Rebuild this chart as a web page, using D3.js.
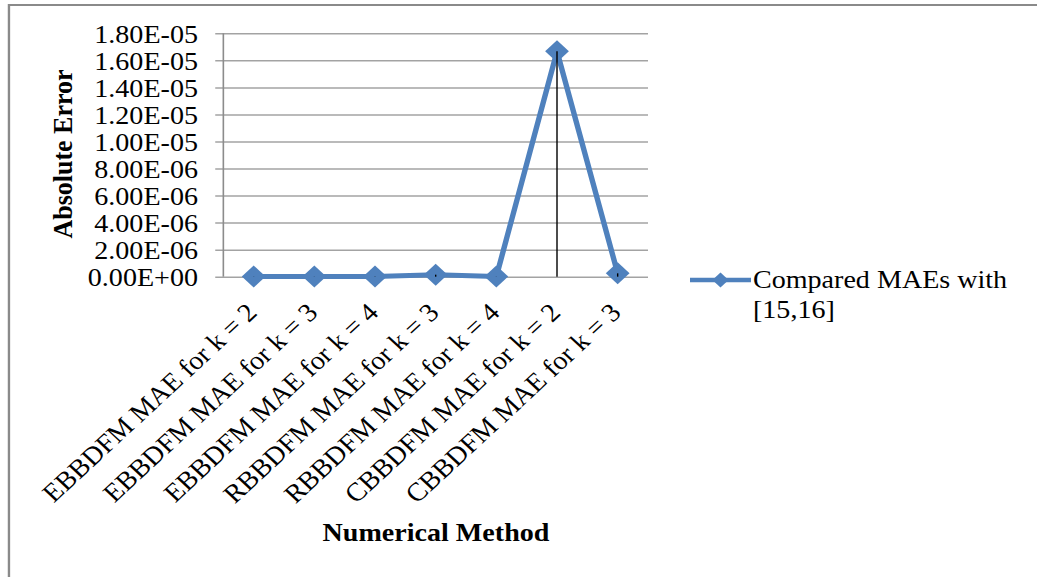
<!DOCTYPE html>
<html>
<head>
<meta charset="utf-8">
<script src="https://cdn.jsdelivr.net/npm/d3@7/dist/d3.min.js"></script>
<style>
  html, body { margin: 0; padding: 0; background: #fff; }
  svg { display: block; }
  text { font-family: "Liberation Serif", "Times New Roman", serif; fill: #000; }
</style>
</head>
<body>
<div id="chart"></div>
<script>
// Mean absolute errors of each block method
const categories = [
  "EBBDFM MAE for k = 2",
  "EBBDFM MAE for k = 3",
  "EBBDFM MAE for k = 4",
  "RBBDFM MAE for k = 3",
  "RBBDFM MAE for k = 4",
  "CBBDFM MAE for k = 2",
  "CBBDFM MAE for k = 3"
];
const maeValues = [1e-8, 1e-8, 2e-8, 1.5e-7, 1e-8, 1.667e-5, 2.5e-7];
const yTickValues = [0, 2e-6, 4e-6, 6e-6, 8e-6, 1e-5, 1.2e-5, 1.4e-5, 1.6e-5, 1.8e-5];
const seriesName = ["Compared MAEs with", "[15,16]"];
const yTitle = "Absolute Error";
const xTitle = "Numerical Method";

// The drawing is laid out in a slightly narrower frame and stretched to the page width
const pageW = 1037, pageH = 577, stretch = 1.08;
const W = pageW / stretch;

const svg = d3.select("#chart").append("svg")
  .attr("width", pageW).attr("height", pageH)
  .attr("viewBox", `0 0 ${W} ${pageH}`)
  .attr("preserveAspectRatio", "none");

const plot = { left: 206.8, right: 600, top: 33.3, bottom: 276.7 };
const blue = "#4f81bd";

// Outer frame (top and left edges)
svg.append("path")
  .attr("d", `M${8.3},${pageH} V5 H${W}`)
  .attr("fill", "none").attr("stroke", "#8a8a8a").attr("stroke-width", 2.2);

const x = d3.scaleBand().domain(categories).range([plot.left, plot.right]).padding(0);
const y = d3.scaleLinear().domain([0, 1.8e-5]).range([plot.bottom, plot.top]);
const cx = d => x(d) + x.bandwidth() / 2;

function sci(v) {
  const [m, e] = v.toExponential(2).split("e");
  const n = +e;
  return m + "E" + (n < 0 ? "-" : "+") + String(Math.abs(n)).padStart(2, "0");
}

// Gridlines + y axis
const yAxis = d3.axisLeft(y).tickValues(yTickValues).tickFormat(sci)
  .tickSize(-(plot.right - plot.left)).tickPadding(23.5);
const gy = svg.append("g").attr("transform", `translate(${plot.left},0)`).call(yAxis);
gy.select(".domain").remove();
gy.selectAll(".tick line")
  .attr("x1", -7.5)
  .attr("stroke", "#a3a3a3").attr("stroke-width", 1.5);
gy.selectAll(".tick text")
  .attr("font-size", 26).attr("font-family", "Liberation Serif, Times New Roman, serif")
  .attr("fill", "#000").attr("dy", "0.34em");
svg.append("line")
  .attr("x1", plot.left).attr("x2", plot.left)
  .attr("y1", plot.top).attr("y2", plot.bottom)
  .attr("stroke", "#8c8c8c").attr("stroke-width", 1.5);

// Category labels, rotated
const gx = svg.append("g");
gx.selectAll("text").data(categories).join("text")
  .attr("transform", d => `translate(${cx(d) + 4.5},${314}) rotate(-45)`)
  .attr("text-anchor", "end")
  .attr("font-size", 26)
  .text(d => d);

// Series line
const pts = categories.map((c, i) => ({ c, v: maeValues[i] }));
svg.append("path")
  .datum(pts)
  .attr("fill", "none").attr("stroke", blue).attr("stroke-width", 5)
  .attr("stroke-linejoin", "round")
  .attr("d", d3.line().x(d => cx(d.c)).y(d => y(d.v)));

// Diamond markers
const diamond = r => `M0,${-r} L${r},0 L0,${r} L${-r},0 Z`;
svg.selectAll(".mk").data(pts).join("path")
  .attr("class", "mk")
  .attr("transform", d => `translate(${cx(d.c)},${y(d.v)})`)
  .attr("d", diamond(11))
  .attr("fill", blue);

// Drop lines from each point to the category axis
svg.selectAll(".drop").data(pts).join("line")
  .attr("class", "drop")
  .attr("x1", d => cx(d.c)).attr("x2", d => cx(d.c))
  .attr("y1", d => y(d.v)).attr("y2", plot.bottom)
  .attr("stroke", "#000").attr("stroke-width", 1.3);

// Axis titles
svg.append("text")
  .attr("transform", `translate(${72 / stretch},${154}) rotate(-90)`)
  .attr("text-anchor", "middle")
  .attr("font-size", 26).attr("font-weight", "bold")
  .text(yTitle);
svg.append("text")
  .attr("x", 436 / stretch).attr("y", 541)
  .attr("text-anchor", "middle")
  .attr("font-size", 26).attr("font-weight", "bold")
  .text(xTitle);

// Legend
const lg = svg.append("g");
const lx0 = 690 / stretch, lx1 = 751 / stretch, ly = 280;
lg.append("line").attr("x1", lx0).attr("x2", lx1).attr("y1", ly).attr("y2", ly)
  .attr("stroke", blue).attr("stroke-width", 4.5);
lg.append("path").attr("transform", `translate(${(lx0 + lx1) / 2},${ly})`)
  .attr("d", diamond(7.5)).attr("fill", blue);
lg.selectAll("text").data(seriesName).join("text")
  .attr("x", 753 / stretch)
  .attr("y", (d, i) => 288 + i * 30)
  .attr("font-size", 26)
  .text(d => d);
</script>
</body>
</html>
